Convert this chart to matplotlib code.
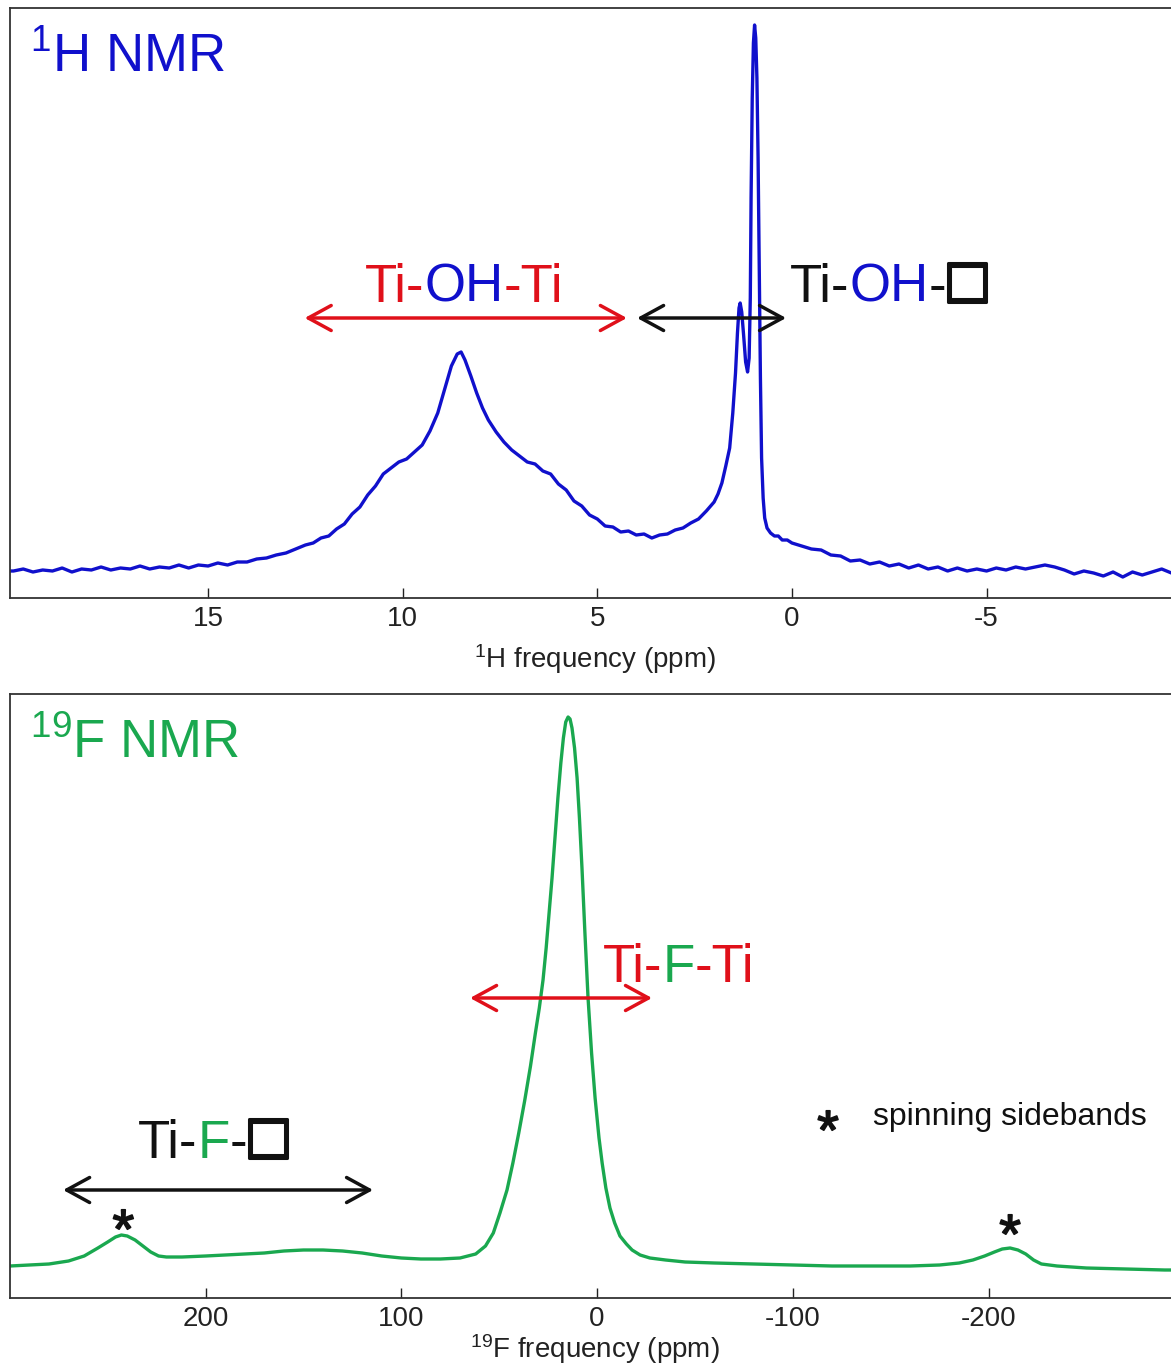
import matplotlib
matplotlib.use("Agg")
import matplotlib.pyplot as plt
import matplotlib.patheffects as pe

plt.rcParams['font.family'] = ['Liberation Sans', 'DejaVu Sans']
plt.rcParams['mathtext.fontset'] = 'custom'
plt.rcParams['mathtext.rm'] = 'Liberation Sans'

# ---------------- data: 1H spectrum (ppm, intensity a.u.) ----------------
h_ppm = [20.09, 20.0, 19.75, 19.5, 19.25, 19.0, 18.75, 18.5, 18.25, 18.0, 17.75, 17.5,
         17.25, 17.0, 16.75, 16.5, 16.25, 16.0, 15.75, 15.5, 15.25, 15.0, 14.75, 14.5,
         14.25, 14.0, 13.75, 13.5, 13.25, 13.0, 12.75,
         12.5, 12.3, 12.1, 11.9, 11.7, 11.5, 11.3, 11.1, 10.9, 10.7, 10.5, 10.3, 10.1,
         9.9, 9.7, 9.5, 9.3, 9.1, 8.9, 8.75, 8.6, 8.5, 8.4, 8.25, 8.1, 7.95, 7.8, 7.6,
         7.4, 7.2, 7.0, 6.8, 6.6, 6.4, 6.2, 6.0, 5.8, 5.6, 5.4, 5.2, 5.0, 4.8, 4.6, 4.4,
         4.2, 4.0, 3.8, 3.6, 3.4, 3.2, 3.0, 2.8, 2.6, 2.4, 2.2, 2.0, 1.9, 1.8, 1.7, 1.6,
         1.52, 1.45, 1.40, 1.36, 1.33, 1.29, 1.24, 1.19, 1.14, 1.10, 1.07, 1.05, 1.02,
         0.99, 0.96, 0.93, 0.90, 0.87, 0.84, 0.81, 0.78, 0.74, 0.70, 0.64, 0.55, 0.45,
         0.35, 0.25, 0.12, 0.0,
         -0.25, -0.5, -0.75, -1.0, -1.25, -1.5, -1.75, -2.0, -2.25, -2.5, -2.75, -3.0,
         -3.25, -3.5, -3.75, -4.0, -4.25, -4.5, -4.75, -5.0, -5.25, -5.5, -5.75, -6.0,
         -6.25, -6.5, -6.75, -7.0, -7.25, -7.5, -7.75, -8.0, -8.25, -8.5, -8.75, -9.0,
         -9.25, -9.5, -9.75, -9.97]
h_int = [27, 27, 29, 26, 28, 27, 30, 26, 29, 28, 31, 28,
         30, 29, 32, 29, 31, 30, 33, 30, 33, 32, 35, 33,
         36, 36, 39, 40, 43, 45, 49,
         53, 55, 60, 62, 69, 74, 84, 91, 103, 112, 124, 130, 136,
         139, 146, 153, 167, 185, 212, 232, 244, 246, 238, 222, 205, 190, 178, 166,
         156, 148, 142, 136, 134, 127, 124, 114, 108, 97, 92, 83, 79, 72, 71, 66,
         67, 63, 64, 60, 63, 64, 68, 70, 75, 79, 87, 96, 104, 115, 132, 150,
         185, 225, 265, 290, 295, 286, 262, 236, 226, 240, 300, 400, 500,
         555, 573, 560, 520, 440, 330, 220, 140, 100, 80, 70, 65, 62,
         62, 58, 58, 55,
         52, 49, 48, 43, 42, 37, 38, 34, 36, 32, 34, 30,
         33, 29, 31, 27, 30, 27, 29, 27, 30, 28, 31, 29,
         31, 33, 31, 28, 24, 27, 25, 22, 26, 21, 26, 23,
         26, 29, 25, 26]

# ---------------- data: 19F spectrum (ppm, intensity a.u.) ----------------
f_ppm = [299.9, 290, 280, 270, 262, 255, 250, 246, 243, 240, 236, 232, 228, 224, 220,
         212, 200, 190, 180, 170, 160, 150, 140, 130, 120, 110, 100, 90, 80, 70, 62,
         57, 53, 49.6, 46, 43, 40, 37, 34, 31.5, 29.5, 27.6, 26, 24.5, 23, 21.5,
         20, 18.5, 17.2, 16, 14.8, 13.8, 12.8, 11.5, 10.2, 9.0, 7.7, 6.2, 4.6, 2.8,
         1.0, -1.0, -2.6, -4.5, -6.6, -9, -11.7, -15, -17.9, -22, -27, -35, -45, -60,
         -80, -100, -120, -140, -160, -175, -185, -192, -198, -203, -207, -211, -215,
         -219, -223, -227, -235, -250, -270, -290, -297.8]
f_int = [32, 33, 34, 37, 42, 50, 56, 61, 63, 62, 58, 52, 46, 42, 41,
         41, 42, 43, 44, 45, 47, 48, 48, 47, 45, 42, 40, 39, 39, 40, 44,
         52, 65, 85, 108, 135, 165, 197, 232, 265, 290, 318, 350, 385, 420, 460,
         500, 535, 560, 576, 581, 579, 570, 550, 520, 480, 430, 365, 300, 245,
         200, 160, 135, 110, 90, 75, 62, 54, 48, 43, 40, 38, 36, 35,
         34, 33, 32, 32, 32, 33, 35, 38, 42, 46, 49, 50, 48,
         44, 38, 34, 32, 30, 29, 28, 28]

h_ticks = [15, 10, 5, 0, -5]
f_ticks = [200, 100, 0, -100, -200]

BLUE = '#1010cc'
RED = '#e0101a'
GREEN = '#1aa84f'
BLACK = '#111111'

W, H = 1171, 1367
fig = plt.figure(figsize=(W / 100, H / 100), dpi=100)
ax1 = fig.add_axes([10 / W, 1 - 598 / H, 1170 / W, 590 / H])
ax2 = fig.add_axes([10 / W, 1 - 1298 / H, 1170 / W, 604 / H])

for ax in (ax1, ax2):
    for s in ax.spines.values():
        s.set_linewidth(1.3)
        s.set_color('#333333')
    ax.set_yticks([])
    ax.tick_params(axis='x', direction='in', length=7, width=1.0, labelsize=20,
                   pad=6, colors='#222222')

ax1.plot(h_ppm, h_int, color=BLUE, lw=2.4)
ax1.set_xlim(20.09, -9.97)
ax1.set_ylim(0, 590)
ax1.set_xticks(h_ticks)
ax1.set_xticklabels([str(t) for t in h_ticks])
ax1.set_xlabel(r'$\mathregular{^{1}}$H frequency (ppm)', fontsize=20, labelpad=7,
               color='#222222')

ax2.plot(f_ppm, f_int, color=GREEN, lw=2.4)
ax2.set_xlim(299.9, -297.8)
ax2.set_ylim(0, 604)
ax2.set_xticks(f_ticks)
ax2.set_xticklabels([str(t) for t in f_ticks])
ax2.set_xlabel(r'$\mathregular{^{19}}$F frequency (ppm)', fontsize=20, labelpad=0,
               color='#222222')

FS = 38
THICK = [pe.withStroke(linewidth=2.2, foreground=BLACK)]


def multicolor(ax, x, y, parts, size, square=False):
    s0, c0 = parts[0]
    t = ax.text(x, y, s0, color=c0, fontsize=size, va='baseline', ha='left')
    for s, c in parts[1:]:
        t = ax.annotate(s, xy=(1, 0), xycoords=t, va='bottom', ha='left',
                        color=c, fontsize=size)
    if square:
        # hollow square, baseline aligned (offset by the descent of the text box)
        ax.annotate('\u25A1', xy=(1, 0), xycoords=t, xytext=(1, 0.212 * size),
                    textcoords='offset points', va='baseline', ha='left',
                    color=BLACK, fontsize=size * 1.22, fontweight='bold',
                    path_effects=THICK)
    return t


def arrow(ax, x1, x2, y, color):
    ax.annotate('', xy=(x2, y), xytext=(x1, y),
                arrowprops=dict(arrowstyle='<->,head_length=0.55,head_width=0.3',
                                color=color, lw=2.5, mutation_scale=30,
                                shrinkA=0, shrinkB=0))


# ---- top panel annotations ----
ax1.text(0.017, 0.892, r'$\mathregular{^{1}}$H NMR', color=BLUE, fontsize=38,
         transform=ax1.transAxes, va='baseline', ha='left')
multicolor(ax1, 10.98, 296, [('Ti-', RED), ('OH', BLUE), ('-Ti', RED)], FS)
multicolor(ax1, 0.05, 296, [('Ti-', BLACK), ('OH', BLUE), ('-', BLACK)], FS, square=True)
arrow(ax1, 12.52, 4.24, 280, RED)
arrow(ax1, 3.98, 0.15, 280, BLACK)

# ---- bottom panel annotations ----
ax2.text(0.017, 0.894, r'$\mathregular{^{19}}$F NMR', color=GREEN, fontsize=38,
         transform=ax2.transAxes, va='baseline', ha='left')
multicolor(ax2, -3.07, 316, [('Ti-', RED), ('F', GREEN), ('-Ti', RED)], FS)
multicolor(ax2, 234.5, 140, [('Ti-', BLACK), ('F', GREEN), ('-', BLACK)], FS, square=True)
arrow(ax2, 64.9, -28.1, 300, RED)
arrow(ax2, 272.8, 114.4, 108, BLACK)

STAR = [pe.withStroke(linewidth=1.2, foreground=BLACK)]
ax2.text(242, 50, '*', fontsize=40, ha='center', va='baseline', color=BLACK,
         path_effects=STAR)
ax2.text(-211, 45, '*', fontsize=40, ha='center', va='baseline', color=BLACK,
         path_effects=STAR)
ax2.text(-118, 149, '*', fontsize=40, ha='center', va='baseline', color=BLACK,
         path_effects=STAR)
ax2.text(-141, 181, 'spinning sidebands', fontsize=23, ha='left', va='center',
         color=BLACK)

fig.savefig('out.png', dpi=100)
